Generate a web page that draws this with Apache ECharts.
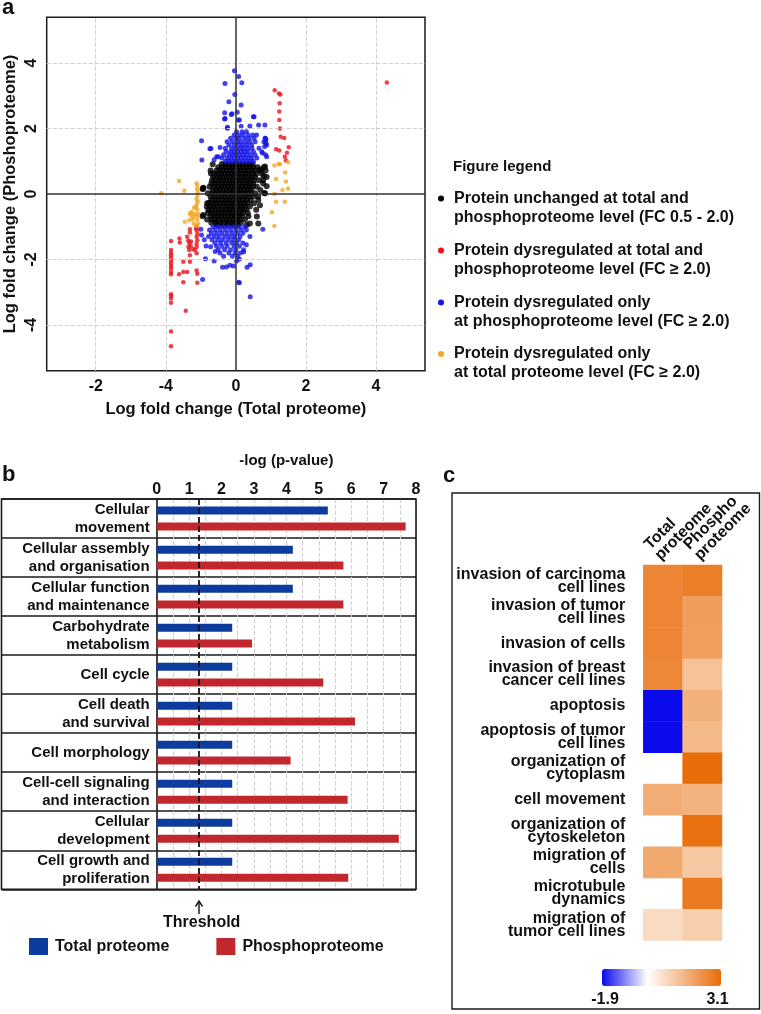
<!DOCTYPE html>
<html><head><meta charset="utf-8">
<script src="https://cdn.jsdelivr.net/npm/echarts@6/dist/echarts.min.js"></script>
<style>html,body{margin:0;padding:0;background:#fff}#main{width:761px;height:1014px}</style>
</head><body><div id="main"></div>
<script>
// ---------- Panel a data ----------
const xTickValues = [-4, -2, 0, 2, 4];
const xTickLabels = ['-2', '-4', '0', '2', '4'];
const yTickValues = [-4, -2, 0, 2, 4];
const yTickLabels = ['-4', '-2', '0', '2', '4'];

// unchanged proteins: rows of [y, [x values]]
const blackRows = [
  [0.92, [-0.40,-0.30,-0.20,-0.10,0.00,0.10,0.20,0.30,0.40,0.48]],
  [0.82, [-0.50,-0.40,-0.30,-0.20,-0.10,0.00,0.10,0.20,0.30,0.40,0.50,0.62,0.80]],
  [0.72, [-0.72,-0.55,-0.45,-0.35,-0.25,-0.15,-0.05,0.05,0.15,0.25,0.35,0.45,0.55,0.70,0.85]],
  [0.62, [-0.62,-0.52,-0.42,-0.32,-0.22,-0.12,-0.02,0.08,0.18,0.28,0.38,0.48,0.58,0.74]],
  [0.52, [-0.65,-0.55,-0.45,-0.35,-0.25,-0.15,-0.05,0.05,0.15,0.25,0.35,0.45,0.55,0.88]],
  [0.42, [-0.68,-0.58,-0.48,-0.38,-0.28,-0.18,-0.08,0.02,0.12,0.22,0.32,0.42,0.52,0.66]],
  [0.32, [-0.70,-0.60,-0.50,-0.40,-0.30,-0.20,-0.10,0.00,0.10,0.20,0.30,0.40,0.50,0.78]],
  [0.22, [-0.75,-0.62,-0.52,-0.42,-0.32,-0.22,-0.12,-0.02,0.08,0.18,0.28,0.38,0.48,0.60]],
  [0.12, [-0.66,-0.56,-0.46,-0.36,-0.26,-0.16,-0.06,0.04,0.14,0.24,0.34,0.44,0.70]],
  [0.02, [-0.80,-0.68,-0.58,-0.48,-0.38,-0.28,-0.18,-0.08,0.02,0.12,0.22,0.32,0.42,0.55,0.82]],
  [-0.08, [-0.72,-0.62,-0.52,-0.42,-0.32,-0.22,-0.12,-0.02,0.08,0.18,0.28,0.38,0.50]],
  [-0.18, [-0.70,-0.60,-0.50,-0.40,-0.30,-0.20,-0.10,0.00,0.10,0.20,0.30,0.42,0.64]],
  [-0.28, [-0.82,-0.66,-0.56,-0.46,-0.36,-0.26,-0.16,-0.06,0.04,0.14,0.24,0.34,0.52]],
  [-0.38, [-0.74,-0.64,-0.54,-0.44,-0.34,-0.24,-0.14,-0.04,0.06,0.16,0.26,0.40]],
  [-0.48, [-0.78,-0.68,-0.58,-0.48,-0.38,-0.28,-0.18,-0.08,0.02,0.12,0.22,0.30,0.58]],
  [-0.58, [-0.80,-0.70,-0.60,-0.50,-0.40,-0.30,-0.20,-0.10,0.00,0.10,0.20,0.34]],
  [-0.68, [-0.95,-0.72,-0.62,-0.52,-0.42,-0.32,-0.22,-0.12,-0.02,0.08,0.18,0.36]],
  [-0.78, [-0.82,-0.68,-0.58,-0.48,-0.38,-0.28,-0.18,-0.08,0.02,0.12,0.26]],
  [-0.88, [-0.70,-0.58,-0.46,-0.34,-0.22,-0.10,0.02,0.14]],
  [-0.95, [-0.55,-0.40,-0.25,-0.10,0.05]]
];
const blackExtra = [[-0.83,-0.39],[-0.93,-0.64],[-0.77,-0.27],[0.64,-0.08],[0.83,0.02],[0.69,-0.34],
  [0.40,-0.90],[0.31,-0.95],[0.64,-0.90],[0.60,-0.69],[-0.66,0.91],[-0.71,0.63],[-0.93,0.19],
  [-0.95,0.15],[0.88,0.24],[0.80,0.55],[0.83,0.84],[0.70,0.75],[0.78,0.43],[-0.93,0.17]];

// dysregulated only at phosphoproteome level
const blueRows = [
  [1.0, [-0.30,-0.20,-0.10,0.00,0.10,0.20,0.30,0.40,0.50]],
  [1.1, [-0.40,-0.25,-0.15,-0.05,0.05,0.15,0.25,0.35,0.45,0.60]],
  [1.2, [-0.35,-0.20,-0.10,0.00,0.10,0.20,0.30,0.42,0.55,0.85]],
  [1.3, [-0.28,-0.15,-0.05,0.05,0.15,0.25,0.35,0.50]],
  [1.4, [-0.30,-0.12,0.00,0.12,0.22,0.34,0.46,0.66]],
  [1.5, [-0.20,-0.05,0.08,0.20,0.32,0.45,0.88]],
  [1.6, [-0.25,-0.10,0.04,0.15,0.28,0.40,0.55,0.80]],
  [1.7, [-0.15,0.00,0.10,0.25,0.38,0.52,0.84]],
  [1.8, [-0.05,0.08,0.20,0.35,0.48]],
  [1.9, [0.02,0.18,0.30]],
  [-1.0, [-0.65,-0.50,-0.35,-0.20,-0.05,0.10,0.25]],
  [-1.1, [-0.75,-0.60,-0.45,-0.30,-0.15,0.00,0.15,0.30]],
  [-1.2, [-0.70,-0.55,-0.40,-0.25,-0.10,0.05,0.20]],
  [-1.3, [-0.78,-0.62,-0.48,-0.32,-0.18,-0.04,0.12]],
  [-1.4, [-0.68,-0.52,-0.38,-0.22,-0.08,0.08]],
  [-1.5, [-0.60,-0.44,-0.28,-0.12,0.02,0.20]],
  [-1.6, [-0.55,-0.40,-0.25,-0.05,0.10]],
  [-1.7, [-0.50,-0.32,-0.15,0.00,0.22]],
  [-1.8, [-0.45,-0.20,-0.02,0.12]],
  [-1.9, [-0.35,-0.10,0.05]]
];
const blueExtra = [[-0.98,1.63],[-0.97,1.04],[-0.74,1.38],[-0.45,1.42],[-0.55,1.14],[-0.31,3.38],[-0.20,2.82],
  [-0.04,3.77],[0.08,3.59],[0.17,3.40],[0.15,2.72],[0.07,2.26],[-0.11,2.45],[-0.31,2.31],[-0.24,2.01],
  [0.50,2.36],[0.40,2.08],[0.83,2.11],[0.86,1.65],[0.86,1.55],[0.59,1.80],[0.74,1.29],[0.88,1.14],
  [-0.03,3.04],[0.04,2.50],[-0.32,2.48],[-0.13,2.43],[0.10,2.26],[-0.32,2.29],[0.52,2.36],[0.65,2.11],
  [0.15,2.07],[-0.24,2.04],[-0.71,1.39],[-0.50,1.14],[-0.62,1.05],[0.84,1.70],[0.82,1.45],[0.76,1.25],
  [-1.00,-1.08],[-0.85,-1.59],[-0.95,-2.61],[-0.87,-1.98],[-0.62,-2.05],[-0.38,-2.24],[-0.27,-2.23],
  [-0.17,-2.18],[-0.07,-2.20],[0.02,-2.05],[0.10,-1.99],[0.08,-2.70],[0.32,-2.24],[0.41,-2.16],
  [0.41,-3.14],[0.77,-1.08],[0.22,-1.77],[-0.59,-1.76],[-0.72,-1.61],[-0.98,-1.25],[0.10,-2.71],
  [0.40,-1.30],[0.30,-1.55],[-0.90,-1.40]];

// dysregulated at total and phosphoproteome level
const redPoints = [[1.11,3.17],[1.23,3.07],[1.27,3.04],[1.25,2.77],[1.24,2.52],[1.24,2.26],[1.26,2.00],
  [1.28,1.75],[1.38,1.71],[1.15,1.37],[1.24,1.33],[1.51,1.43],[1.46,1.26],[1.40,1.14],[1.43,1.02],[4.31,3.41],
  [-1.85,-1.44],[-1.85,-1.71],[-1.85,-1.80],[-1.85,-1.87],[-1.85,-1.95],[-1.85,-2.04],[-1.85,-2.12],
  [-1.85,-2.20],[-1.85,-2.28],[-1.85,-2.38],[-1.85,-2.45],[-1.85,-3.06],[-1.85,-3.12],[-1.85,-3.19],
  [-1.85,-3.32],[-1.85,-4.20],[-1.85,-4.65],
  [-1.61,-1.36],[-1.60,-1.48],[-1.39,-1.31],[-1.36,-1.42],[-1.33,-1.50],[-1.28,-1.45],[-1.35,-1.62],
  [-1.29,-1.58],[-1.33,-1.71],[-1.22,-1.68],[-1.17,-1.71],[-1.31,-1.08],[-1.31,-1.18],[-1.12,-1.00],
  [-1.12,-1.10],[-1.10,-1.21],[-1.12,-1.31],[-1.10,-1.41],[-1.14,-1.05],[-1.12,-1.81],[-1.31,-1.87],
  [-1.50,-2.07],[-1.31,-2.07],[-1.50,-2.38],[-1.39,-2.38],[-1.62,-2.45],[-1.50,-2.70],[-1.12,-2.34],
  [-1.10,-2.44],[-1.10,-2.71],[-1.43,-3.57],[-1.12,-1.52],[-1.12,-1.62]];

// dysregulated only at total proteome level
const orangePoints = [[1.10,0.87],[1.22,0.92],[1.49,0.97],[1.15,0.46],[1.43,0.38],[1.33,0.12],[1.49,0.17],
  [1.10,0.00],[1.15,-0.24],[1.40,-0.24],[1.03,-0.56],[1.10,-0.98],[1.26,0.91],[1.41,0.66],
  [-2.13,0.02],[-1.62,0.40],[-1.47,0.10],[-1.12,0.33],[-1.10,0.26],[-1.11,0.15],[-1.09,0.05],[-1.10,-0.05],
  [-1.12,-0.15],[-1.09,-0.22],[-1.11,-0.30],[-1.13,-0.40],[-1.10,-0.48],[-1.08,-0.60],[-1.12,-0.68],
  [-1.10,-0.78],[-1.08,-0.90],[-1.13,-0.98],[-1.31,-0.59],[-1.26,-0.55],[-1.33,-0.80],[-1.46,-0.85],
  [-1.19,-0.42],[-1.22,-0.70],[-1.24,-0.77],[-1.20,-0.90],[-1.29,-0.64],[-1.15,-0.39],[-1.17,-0.62]];

const legendATitle = 'Figure legend';
const legendALabels = [
  'Protein unchanged at total and\nphosphoproteome level (FC 0.5 - 2.0)',
  'Protein dysregulated at total and\nphosphoproteome level (FC \u2265 2.0)',
  'Protein dysregulated only\nat phosphoproteome level (FC \u2265 2.0)',
  'Protein dysregulated only\nat total proteome level (FC \u2265 2.0)'
];

// ---------- Panel b data ----------
const catB = ['Cellular\nmovement','Cellular assembly\nand organisation','Cellular function\nand maintenance',
  'Carbohydrate\nmetabolism','Cell cycle','Cell death\nand survival','Cell morphology',
  'Cell-cell signaling\nand interaction','Cellular\ndevelopment','Cell growth and\nproliferation'];
const totalB = [5.28, 4.20, 4.20, 2.33, 2.33, 2.33, 2.33, 2.33, 2.33, 2.33];
const phosphoB = [7.68, 5.76, 5.76, 2.94, 5.14, 6.12, 4.13, 5.89, 7.47, 5.91];
const thresholdB = 1.3;

// ---------- Panel c data ----------
const colsC = ['Total\nproteome', 'Phospho\nproteome'];
const rowsC = ['invasion of carcinoma\ncell lines','invasion of tumor\ncell lines','invasion of cells',
  'invasion of breast\ncancer cell lines','apoptosis','apoptosis of tumor\ncell lines',
  'organization of\ncytoplasm','cell movement','organization of\ncytoskeleton','migration of\ncells',
  'microtubule\ndynamics','migration of\ntumor cell lines'];
const totalC = [2.54, 2.54, 2.54, 2.50, -1.9, -1.9, null, 1.73, null, 1.82, null, 0.76];
const phosphoC = [2.71, 2.06, 2.02, 1.28, 1.67, 1.47, 3.1, 1.63, 3.0, 1.17, 2.8, 1.02];
const scaleMin = -1.9, scaleMax = 3.1;

// ---------- build ----------
function fromRows(rows){ const o=[]; rows.forEach(r=>r[1].forEach(x=>o.push([x,r[0]]))); return o; }
const blackData = fromRows(blackRows).concat(blackExtra);
const blueData = fromRows(blueRows).concat(blueExtra);
const heatData = [];
rowsC.forEach((r,i)=>{
  if (totalC[i] !== null) heatData.push([0,i,totalC[i]]);
  if (phosphoC[i] !== null) heatData.push([1,i,phosphoC[i]]);
});
// colour ramp (style): blue -> white at 0 -> orange
const BLUE=[10,10,235], ORANGE=[232,108,8];
function ramp(v){
  let c,t; if(v<0){c=BLUE;t=v/scaleMin;} else {c=ORANGE;t=v/scaleMax;}
  const m=k=>Math.round(255+(c[k]-255)*t);
  return 'rgb('+m(0)+','+m(1)+','+m(2)+')';
}
const stops=[]; for(let k=0;k<=50;k++){ stops.push(ramp(scaleMin+(scaleMax-scaleMin)*k/50)); }

const FONT = '"Liberation Sans", Arial, Helvetica, sans-serif';
const TXT = '#111';
const bold = (size, extra) => Object.assign({fontFamily:FONT, fontWeight:'bold', fontSize:size, fill:TXT}, extra||{});

const chart = echarts.init(document.getElementById('main'), null, {renderer:'canvas'});

const graphics = [];
// panel letters
graphics.push({type:'text', left:2, top:-3, style:bold(22,{text:'a'})});
graphics.push({type:'text', left:2, top:464, style:bold(22,{text:'b'})});
graphics.push({type:'text', left:443, top:465, style:bold(22,{text:'c'})});
// panel a legend
graphics.push({type:'text', left:453, top:159, style:bold(15,{text:legendATitle})});
const legColors = ['#000000','#E8141A','#1414E6','#F5A623'];
const legTops = [189, 241, 293, 344.5];
legendALabels.forEach((t,i)=>{
  graphics.push({type:'circle', shape:{cx:441, cy:legTops[i]+9.5, r:3}, style:{fill:legColors[i]}});
  graphics.push({type:'text', left:454, top:legTops[i], style:bold(16,{text:t, lineHeight:19})});
});
// panel b table frame
graphics.push({type:'rect', shape:{x:1.5, y:499, width:414.5, height:390.3}, style:{fill:'none', stroke:'#1a1a1a', lineWidth:1.6}, z:50});
// threshold arrow
graphics.push({type:'line', shape:{x1:199, y1:914, x2:199, y2:902}, style:{stroke:'#111', lineWidth:1.4}});
graphics.push({type:'polyline', shape:{points:[[195.5,906.5],[199,901],[202.5,906.5]]}, style:{stroke:'#111', fill:'none', lineWidth:1.4}});
graphics.push({type:'text', x:201.7, y:922.7, style:bold(16,{text:'Threshold', textAlign:'center', textVerticalAlign:'middle'})});
// panel c frame
graphics.push({type:'rect', shape:{x:452, y:493, width:307.5, height:516}, style:{fill:'none', stroke:'#1a1a1a', lineWidth:1.4}});
graphics.push({type:'text', x:605, y:1000, style:bold(16,{text:String(scaleMin), textAlign:'center', textVerticalAlign:'middle'})});
graphics.push({type:'text', x:717.5, y:1000, style:bold(16,{text:String(scaleMax), textAlign:'center', textVerticalAlign:'middle'})});

const dash = {type:'dashed', color:'#cfcfcf', width:1};
const gridLinesA = xTickValues.filter(v=>v!==0).map(v=>({xAxis:v})).concat(yTickValues.filter(v=>v!==0).map(v=>({yAxis:v})));

const option = {
  animation:false,
  backgroundColor:'#fff',
  textStyle:{fontFamily:FONT},
  graphic: graphics,
  grid:[
    {left:46.7, top:17.3, width:378.3, height:353.4, show:true, borderColor:'#1a1a1a', borderWidth:1.5, z:3},
    {left:156.7, top:499, width:259.3, height:390.3},
    {left:643.3, top:565, width:78.7, height:375.5}
  ],
  xAxis:[
    {gridIndex:0, type:'value', min:-5.4, max:5.4,
     axisLine:{show:false}, axisTick:{show:false}, splitLine:{show:false},
     axisLabel:{customValues:xTickValues, formatter:v=>xTickLabels[xTickValues.indexOf(v)],
       fontSize:16, fontWeight:'bold', color:TXT, margin:8},
     name:'Log fold change (Total proteome)', nameLocation:'middle', nameGap:30,
     nameTextStyle:{fontSize:16.5, fontWeight:'bold', color:TXT}},
    {gridIndex:1, type:'value', position:'top', min:0, max:8, interval:1,
     axisLine:{show:false}, axisTick:{show:false},
     minorTick:{show:false, splitNumber:2},
     splitLine:{show:true, lineStyle:dash}, minorSplitLine:{show:true, lineStyle:dash},
     axisLabel:{fontSize:16, fontWeight:'bold', color:TXT, margin:1},
     name:'-log (p-value)', nameLocation:'middle', nameGap:31,
     nameTextStyle:{fontSize:15, fontWeight:'bold', color:TXT}},
    {gridIndex:2, type:'category', position:'top', data:colsC,
     axisLine:{show:false}, axisTick:{show:false}, splitLine:{show:false},
     axisLabel:{interval:0, rotate:-45, fontSize:16, fontWeight:'bold', color:TXT, lineHeight:15,
       align:'left', verticalAlign:'bottom', margin:2}}
  ],
  yAxis:[
    {gridIndex:0, type:'value', min:-5.4, max:5.4,
     axisLine:{show:false}, axisTick:{show:false}, splitLine:{show:false},
     axisLabel:{customValues:yTickValues, formatter:v=>yTickLabels[yTickValues.indexOf(v)],
       rotate:90, fontSize:16, fontWeight:'bold', color:TXT, margin:7},
     name:'Log fold change (Phoshoproteome)', nameLocation:'middle', nameGap:28,
     nameTextStyle:{fontSize:16.5, fontWeight:'bold', color:TXT}},
    {gridIndex:1, type:'category', data:catB, inverse:true,
     axisLine:{show:true, lineStyle:{color:'#1a1a1a', width:1.6}},
     axisTick:{show:true, interval:0, length:155, lineStyle:{color:'#1a1a1a', width:1.6}},
     splitLine:{show:true, interval:0, lineStyle:{color:'#1a1a1a', width:1.6}},
     axisLabel:{interval:0, fontSize:15, fontWeight:'bold', color:TXT, lineHeight:18, margin:7}},
    {gridIndex:2, type:'category', data:rowsC, inverse:true,
     axisLine:{show:false}, axisTick:{show:false}, splitLine:{show:false},
     axisLabel:{interval:0, fontSize:16, fontWeight:'bold', color:TXT, lineHeight:13, margin:18}}
  ],
  legend:{data:['Total proteome','Phosphoproteome'], left:29, top:938, padding:0, icon:'rect',
    itemWidth:19, itemHeight:17, itemGap:47, selectedMode:false,
    textStyle:{fontSize:16, fontWeight:'bold', color:TXT, padding:[0,0,0,2]}},
  visualMap:{type:'continuous', seriesIndex:8, min:scaleMin, max:scaleMax, orient:'horizontal',
    left:602, top:969, itemWidth:17, itemHeight:119, padding:0, calculable:false, hoverLink:false,
    text:null, showLabel:false, inRange:{color:stops}},
  series:[
    {type:'scatter', name:'grid', xAxisIndex:0, yAxisIndex:0, data:[], z:1, silent:true,
     markLine:{silent:true, symbol:['none','none'], label:{show:false}, lineStyle:dash, data:gridLinesA}},
    {type:'scatter', name:'unchanged', xAxisIndex:0, yAxisIndex:0, data:blackData, symbolSize:6,
     itemStyle:{color:'#000'}, z:2},
    {type:'scatter', name:'phospho only', xAxisIndex:0, yAxisIndex:0, data:blueData, symbolSize:5,
     itemStyle:{color:'#1414E6'}, z:2},
    {type:'scatter', name:'both', xAxisIndex:0, yAxisIndex:0, data:redPoints, symbolSize:4.5,
     itemStyle:{color:'#E8141A'}, z:2},
    {type:'scatter', name:'total only', xAxisIndex:0, yAxisIndex:0, data:orangePoints, symbolSize:4.5,
     itemStyle:{color:'#F5A623'}, z:2},
    {type:'scatter', name:'zero', xAxisIndex:0, yAxisIndex:0, data:[], z:6, silent:true,
     markLine:{silent:true, symbol:['none','none'], label:{show:false},
       lineStyle:{type:'solid', color:'#333', width:1.5}, data:[{xAxis:0},{yAxis:0}]}},
    {type:'bar', name:'Total proteome', xAxisIndex:1, yAxisIndex:1, data:totalB, barWidth:8, barGap:'98%',
     itemStyle:{color:'#0E3C9E'}, z:3,
     markLine:{silent:true, symbol:['none','none'], label:{show:false},
       lineStyle:{type:[6,3], color:'#111', width:1.8}, data:[{xAxis:thresholdB}]}},
    {type:'bar', name:'Phosphoproteome', xAxisIndex:1, yAxisIndex:1, data:phosphoB, barWidth:8, barGap:'98%',
     itemStyle:{color:'#C1272D'}, z:3},
    {type:'heatmap', name:'heat', xAxisIndex:2, yAxisIndex:2, data:heatData, itemStyle:{borderWidth:0}}
  ]
};
chart.setOption(option);
</script></body></html>
